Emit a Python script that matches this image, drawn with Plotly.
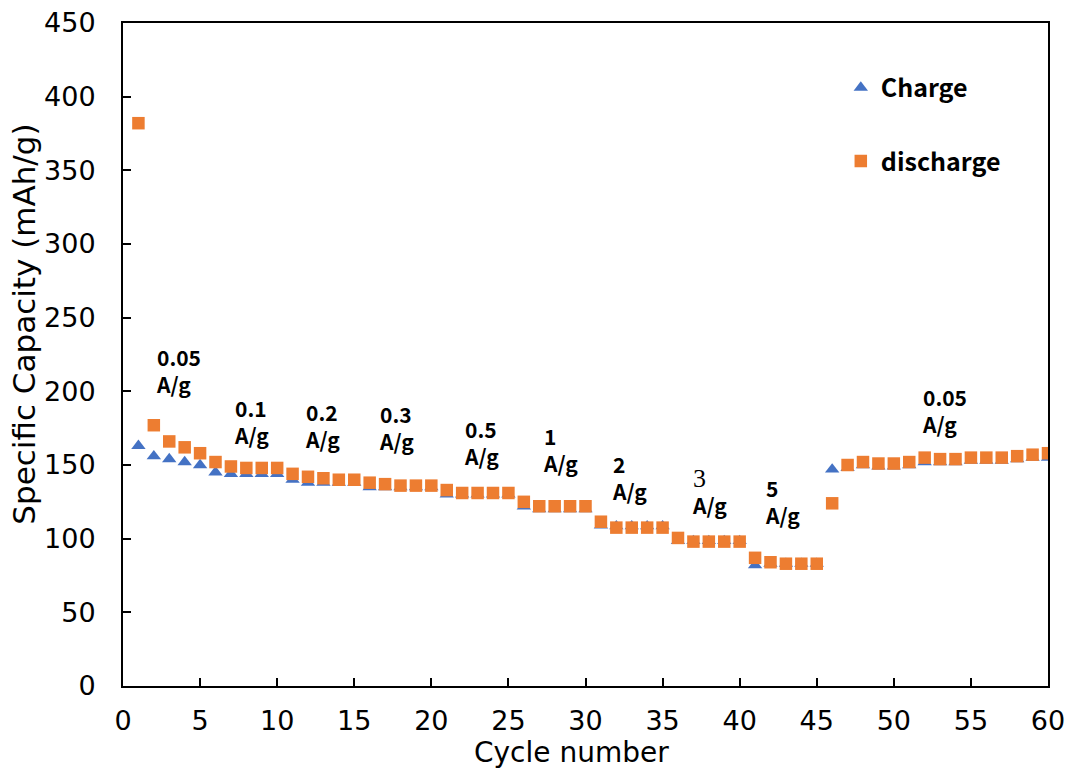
import plotly.graph_objects as go

# Rate-capability test: capacity per cycle at stepped current densities
cycles = list(range(1, 61))

charge = [
    163, 156, 154, 152, 150, 145, 144, 144, 144, 144,
    140, 138, 138, 138, 138, 135, 135, 135, 135, 135,
    130, 130, 130, 130, 130, 122, 120, 120, 120, 120,
    109, 108.5, 108.5, 108.5, 108.5, 98.5, 98.5, 98.5, 98.5, 98.5,
    82, 83, 83, 83, 83, 147, 148, 150, 149, 149,
    150, 152, 152, 152, 153, 153, 153, 154, 155, 155,
]

discharge = [
    382, 177, 166, 162, 158, 152, 149, 148, 148, 148,
    144, 142, 141, 140, 140, 138, 137, 136, 136, 136,
    133, 131, 131, 131, 131, 125, 122, 122, 122, 122,
    111.5, 107.5, 107.5, 107.5, 107.5, 100.5, 98, 98, 98, 98,
    87, 84, 83, 83, 83, 124, 150, 152, 151, 151,
    152, 155, 154, 154, 155, 155, 155, 156, 157, 158,
]

# Current-density labels for each step of the test
rate_labels = ["0.05", "0.1", "0.2", "0.3", "0.5", "1", "2", "3", "5", "0.05"]
label_x = [2.0, 7.05, 11.65, 16.5, 22.0, 27.1, 31.6, 36.8, 41.5, 51.7]
label_y = [214, 179.5, 176.5, 175.3, 165, 160.5, 141.5, 132, 125.3, 187]

BLUE = "#4472C4"
ORANGE = "#ED7D31"
TICK_FONT = dict(family="DejaVu Sans", size=27, color="black")
LABEL_FONT = dict(family="Noto Sans CJK SC", size=21, color="black", weight="bold")

fig = go.Figure()

fig.add_trace(go.Scatter(
    x=cycles, y=charge, mode="markers", name="Charge", legendgroup="c",
    marker=dict(symbol="triangle-up", size=12.5, color=BLUE),
))
fig.add_trace(go.Scatter(
    x=cycles, y=discharge, mode="markers", name="discharge", legendgroup="d",
    marker=dict(symbol="square", size=12.5, color=ORANGE),
))

annotations = []
for txt, lx, ly in zip(rate_labels, label_x, label_y):
    head = txt
    if txt == "3":
        head = ("<span style='font-family:Liberation Serif;font-size:26px;"
                "font-weight:normal'>3</span>")
    annotations.append(dict(
        x=lx, y=ly, xref="x", yref="y", xanchor="left", yanchor="middle",
        align="left", showarrow=False, text=f"{head}<br>A/g", font=LABEL_FONT,
    ))

# Axis titles
annotations.append(dict(
    x=-0.107, y=0.545, xref="paper", yref="paper", xanchor="center", yanchor="middle",
    textangle=-90, showarrow=False, text="Specific Capacity (mAh/g)",
    font=dict(family="DejaVu Sans", size=31, color="black"),
))
annotations.append(dict(
    x=0.485, y=-0.1, xref="paper", yref="paper", xanchor="center", yanchor="middle",
    showarrow=False, text="Cycle number",
    font=dict(family="DejaVu Sans", size=28, color="black"),
))

axis_common = dict(
    showgrid=False, zeroline=False, showline=True, linecolor="black", linewidth=2,
    mirror=True, ticks="inside", ticklen=8, tickwidth=2, tickcolor="black",
    tickfont=TICK_FONT, automargin=False,
)

fig.update_layout(
    width=1069, height=771,
    margin=dict(l=123, r=21, t=23, b=85),
    paper_bgcolor="white", plot_bgcolor="white",
    xaxis=dict(range=[0, 60], tick0=0, dtick=5, ticklabelstandoff=10, **axis_common),
    yaxis=dict(range=[0, 450], tick0=0, dtick=50, ticklabelstandoff=20, **axis_common),
    legend=dict(
        x=0.776, y=0.937, xanchor="left", yanchor="top",
        bgcolor="rgba(0,0,0,0)", tracegroupgap=38,
        font=dict(family="Noto Sans CJK SC", size=25, color="black", weight="bold"),
    ),
    annotations=annotations,
)

fig.write_html("out.html")
